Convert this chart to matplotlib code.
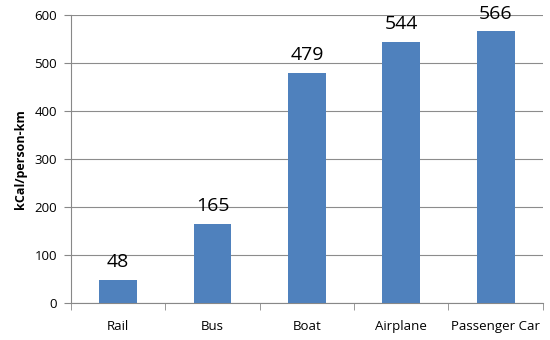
import numpy as np
import matplotlib.pyplot as plt

modes = ['Rail', 'Bus', 'Boat', 'Airplane', 'Passenger Car']
energy = [48, 165, 479, 544, 566]
yticks = [0, 100, 200, 300, 400, 500, 600]

plt.rcParams['font.family'] = ['Open Sans', 'DejaVu Sans']

fig = plt.figure(figsize=(5.5, 3.4), dpi=100)
ax = fig.add_axes([0.129, 0.109, 0.858, 0.847])

x = np.arange(len(modes))
bars = ax.bar(x, energy, width=0.4, color='#4f81bd', zorder=3)
for b, v in zip(bars, energy):
    ax.text(b.get_x() + b.get_width() / 2, v + 18, str(v),
            ha='center', va='bottom', fontsize=14, color='black')

ax.set_xlim(-0.5, len(modes) - 0.5)
ax.set_ylim(0, 600)
ax.set_yticks(yticks)
ax.set_xticks(x)
ax.set_xticklabels(modes)
ax.set_xticks(np.arange(len(modes) + 1) - 0.5, minor=True)
ax.tick_params(axis='x', which='major', length=0, labelsize=9.5, pad=12)
ax.tick_params(axis='x', which='minor', length=5, color='#888888')
ax.tick_params(axis='y', length=5, color='#888888', labelsize=9.5, pad=5)
ax.grid(axis='y', color='#8c8c8c', linewidth=0.8, zorder=0)

for s in ['top', 'right']:
    ax.spines[s].set_visible(False)
for s in ['left', 'bottom']:
    ax.spines[s].set_color('#888888')

ax.set_ylabel('kCal/person-km', fontsize=9, fontweight='bold', labelpad=5)

fig.savefig('out.png', dpi=100)
